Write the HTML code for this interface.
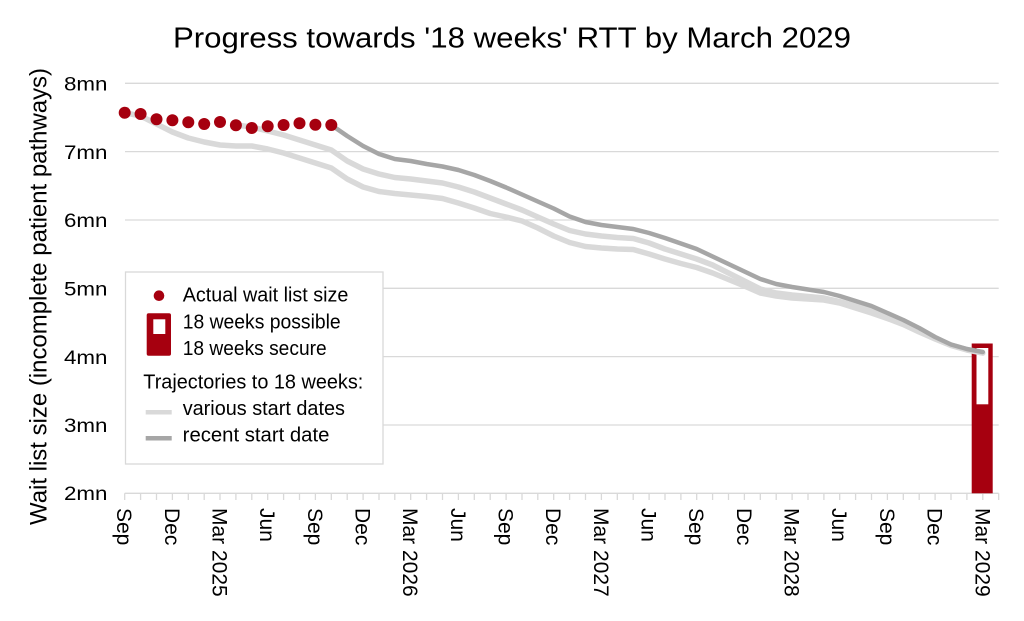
<!DOCTYPE html>
<html>
<head>
<meta charset="utf-8">
<style>
  html, body { margin: 0; padding: 0; background: #ffffff; }
  svg { display: block; }
  text { font-family: "Liberation Sans", Arial, sans-serif; fill: #000; }
</style>
</head>
<body>
<svg width="1024" height="621" viewBox="0 0 1024 621" xmlns="http://www.w3.org/2000/svg">
  <rect x="0" y="0" width="1024" height="621" fill="#ffffff"/>

  <!-- Title -->
  <text x="173" y="47.7" font-size="29" textLength="678" lengthAdjust="spacingAndGlyphs">Progress towards '18 weeks' RTT by March 2029</text>

  <!-- Y axis title -->
  <text transform="translate(46.5,296.5) rotate(-90)" text-anchor="middle" font-size="24" textLength="457" lengthAdjust="spacingAndGlyphs">Wait list size (incomplete patient pathways)</text>

  <!-- Gridlines -->
  <g stroke="#d9d9d9" stroke-width="1.3">
    <line x1="125" y1="83.3" x2="998.7" y2="83.3"/>
    <line x1="125" y1="151.6" x2="998.7" y2="151.6"/>
    <line x1="125" y1="220" x2="998.7" y2="220"/>
    <line x1="125" y1="288.3" x2="998.7" y2="288.3"/>
    <line x1="125" y1="356.6" x2="998.7" y2="356.6"/>
    <line x1="125" y1="425" x2="998.7" y2="425"/>
    <line x1="124.7" y1="493.3" x2="998.7" y2="493.3"/>
  </g>

  <!-- Y tick labels -->
  <g font-size="19.5" text-anchor="end">
    <text x="107.5" y="90.5" textLength="43.5" lengthAdjust="spacingAndGlyphs">8mn</text>
    <text x="107.5" y="158.8" textLength="43.5" lengthAdjust="spacingAndGlyphs">7mn</text>
    <text x="107.5" y="227.2" textLength="43.5" lengthAdjust="spacingAndGlyphs">6mn</text>
    <text x="107.5" y="295.5" textLength="43.5" lengthAdjust="spacingAndGlyphs">5mn</text>
    <text x="107.5" y="363.8" textLength="43.5" lengthAdjust="spacingAndGlyphs">4mn</text>
    <text x="107.5" y="432.2" textLength="43.5" lengthAdjust="spacingAndGlyphs">3mn</text>
    <text x="107.5" y="499.8" textLength="43.5" lengthAdjust="spacingAndGlyphs">2mn</text>
  </g>

  <!-- X axis ticks -->
  <path stroke="#d9d9d9" stroke-width="1.3" fill="none" d="
    M124.7 493.3 V500 M140.6 493.3 V500 M156.5 493.3 V500 M172.4 493.3 V500 M188.3 493.3 V500
    M204.2 493.3 V500 M220.0 493.3 V500 M235.9 493.3 V500 M251.8 493.3 V500 M267.7 493.3 V500
    M283.6 493.3 V500 M299.5 493.3 V500 M315.4 493.3 V500 M331.3 493.3 V500 M347.2 493.3 V500
    M363.1 493.3 V500 M379.0 493.3 V500 M394.8 493.3 V500 M410.7 493.3 V500 M426.6 493.3 V500
    M442.5 493.3 V500 M458.4 493.3 V500 M474.3 493.3 V500 M490.2 493.3 V500 M506.1 493.3 V500
    M522.0 493.3 V500 M537.8 493.3 V500 M553.7 493.3 V500 M569.6 493.3 V500 M585.5 493.3 V500
    M601.4 493.3 V500 M617.3 493.3 V500 M633.2 493.3 V500 M649.1 493.3 V500 M665.0 493.3 V500
    M680.9 493.3 V500 M696.7 493.3 V500 M712.6 493.3 V500 M728.5 493.3 V500 M744.4 493.3 V500
    M760.3 493.3 V500 M776.2 493.3 V500 M792.1 493.3 V500 M808.0 493.3 V500 M823.9 493.3 V500
    M839.7 493.3 V500 M855.6 493.3 V500 M871.5 493.3 V500 M887.4 493.3 V500 M903.3 493.3 V500
    M919.2 493.3 V500 M935.1 493.3 V500 M951.0 493.3 V500 M966.9 493.3 V500 M982.8 493.3 V500
    M998.7 493.3 V500"/>

  <!-- X tick labels (rotated 90deg clockwise) -->
  <g font-size="21">
    <text transform="translate(117.2,508) rotate(90)">Sep</text>
    <text transform="translate(164.9,508) rotate(90)">Dec</text>
    <text transform="translate(212.5,508) rotate(90)">Mar 2025</text>
    <text transform="translate(260.2,508) rotate(90)">Jun</text>
    <text transform="translate(307.9,508) rotate(90)">Sep</text>
    <text transform="translate(355.6,508) rotate(90)">Dec</text>
    <text transform="translate(403.2,508) rotate(90)">Mar 2026</text>
    <text transform="translate(450.9,508) rotate(90)">Jun</text>
    <text transform="translate(498.6,508) rotate(90)">Sep</text>
    <text transform="translate(546.2,508) rotate(90)">Dec</text>
    <text transform="translate(593.9,508) rotate(90)">Mar 2027</text>
    <text transform="translate(641.6,508) rotate(90)">Jun</text>
    <text transform="translate(689.2,508) rotate(90)">Sep</text>
    <text transform="translate(736.9,508) rotate(90)">Dec</text>
    <text transform="translate(784.6,508) rotate(90)">Mar 2028</text>
    <text transform="translate(832.2,508) rotate(90)">Jun</text>
    <text transform="translate(879.9,508) rotate(90)">Sep</text>
    <text transform="translate(927.6,508) rotate(90)">Dec</text>
    <text transform="translate(975.3,508) rotate(90)">Mar 2029</text>
  </g>

  <!-- Bar at Mar 2029 -->
  <rect x="971.7" y="343.5" width="21" height="149.8" fill="#a6000f"/>
  <rect x="976.5" y="348" width="11.8" height="56.3" fill="#ffffff"/>

  <!-- Trajectory lines: various start dates (light) -->
  <g fill="none" stroke="#d9d9d9" stroke-width="5.5" stroke-linejoin="round" stroke-linecap="round">
    <polyline points="124.7,112.7 140.6,116 156.5,124 172.4,132 188.3,138 204.2,142 220.0,145 235.9,146 251.8,146 267.7,149 283.6,153 299.5,158 315.4,163 331.3,168 347.2,179 363.1,187 379.0,191.5 394.8,193.5 410.7,195 426.6,196.5 442.5,198.5 458.4,203 474.3,208 490.2,213.5 506.1,217 522.0,221 537.8,228 553.7,236 569.6,242.5 585.5,246.5 601.4,248 617.3,249 633.2,249.5 649.1,254 665.0,259 680.9,263.5 696.7,267.5 712.6,273 728.5,279.5 744.4,286 760.3,293 776.2,296 792.1,298 808.0,299 823.9,300 839.7,303 855.6,308 871.5,313 887.4,318.5 903.3,324.5 919.2,332 935.1,339 951.0,345.5 966.9,350 982.8,353"/>
    <polyline points="235.9,125 251.8,127 267.7,131 283.6,135 299.5,140 315.4,145 331.3,150 347.2,161 363.1,169 379.0,174 394.8,177.5 410.7,179 426.6,181 442.5,183 458.4,187 474.3,192 490.2,198 506.1,204 522.0,210 537.8,217 553.7,224 569.6,230.5 585.5,234 601.4,236 617.3,237.5 633.2,238.5 649.1,243 665.0,249 680.9,254 696.7,259 712.6,265 728.5,273 744.4,281 760.3,289 776.2,293 792.1,295 808.0,296.5 823.9,298 839.7,301.5 855.6,306 871.5,311 887.4,317 903.3,323 919.2,331 935.1,338.5 951.0,345 966.9,349.5 982.8,353"/>
  </g>

  <!-- Trajectory line: recent start date (dark) -->
  <polyline fill="none" stroke="#a6a6a6" stroke-width="4.5" stroke-linejoin="round" stroke-linecap="round"
    points="331.3,125 347.2,136 363.1,146 379.0,154 394.8,159 410.7,161 426.6,164 442.5,166.5 458.4,170 474.3,175 490.2,181 506.1,187.5 522.0,194.5 537.8,201.5 553.7,208.5 569.6,216.5 585.5,222 601.4,225 617.3,227 633.2,229 649.1,233 665.0,238 680.9,243.5 696.7,249 712.6,256.5 728.5,264 744.4,271.5 760.3,279 776.2,284 792.1,287 808.0,289.5 823.9,292 839.7,296 855.6,301 871.5,306 887.4,313 903.3,320 919.2,328 935.1,337 951.0,344.5 966.9,349 982.8,352"/>

  <!-- Actual wait list dots -->
  <g fill="#a6000f">
    <circle cx="124.7" cy="112.7" r="6"/>
    <circle cx="140.6" cy="114" r="6"/>
    <circle cx="156.5" cy="119.3" r="6"/>
    <circle cx="172.4" cy="120.3" r="6"/>
    <circle cx="188.3" cy="122.3" r="6"/>
    <circle cx="204.2" cy="124" r="6"/>
    <circle cx="220.0" cy="122" r="6"/>
    <circle cx="235.9" cy="125.3" r="6"/>
    <circle cx="251.8" cy="128" r="6"/>
    <circle cx="267.7" cy="126.3" r="6"/>
    <circle cx="283.6" cy="125" r="6"/>
    <circle cx="299.5" cy="123.3" r="6"/>
    <circle cx="315.4" cy="124.7" r="6"/>
    <circle cx="331.3" cy="125" r="6"/>
  </g>

  <!-- Legend -->
  <rect x="125.5" y="272" width="257.5" height="192" fill="#ffffff" stroke="#d9d9d9" stroke-width="1.3"/>
  <circle cx="159" cy="295.7" r="5.3" fill="#a6000f"/>
  <rect x="146.7" y="313.3" width="24.3" height="42.4" rx="2" ry="2" fill="#a6000f"/>
  <rect x="153.3" y="319.3" width="12" height="14.7" fill="#ffffff"/>
  <line x1="145.7" y1="412.3" x2="171.7" y2="412.3" stroke="#d9d9d9" stroke-width="4.5"/>
  <line x1="145.7" y1="438.3" x2="171.7" y2="438.3" stroke="#a6a6a6" stroke-width="4.5"/>
  <g font-size="20">
    <text x="182.7" y="301.7" textLength="165.7" lengthAdjust="spacingAndGlyphs">Actual wait list size</text>
    <text x="182.7" y="328.3" textLength="158" lengthAdjust="spacingAndGlyphs">18 weeks possible</text>
    <text x="182.7" y="355" textLength="144" lengthAdjust="spacingAndGlyphs">18 weeks secure</text>
    <text x="143.3" y="388.3" textLength="220" lengthAdjust="spacingAndGlyphs">Trajectories to 18 weeks:</text>
    <text x="182.7" y="415" textLength="162.3" lengthAdjust="spacingAndGlyphs">various start dates</text>
    <text x="182.7" y="441.7" textLength="146.7" lengthAdjust="spacingAndGlyphs">recent start date</text>
  </g>
</svg>
</body>
</html>
